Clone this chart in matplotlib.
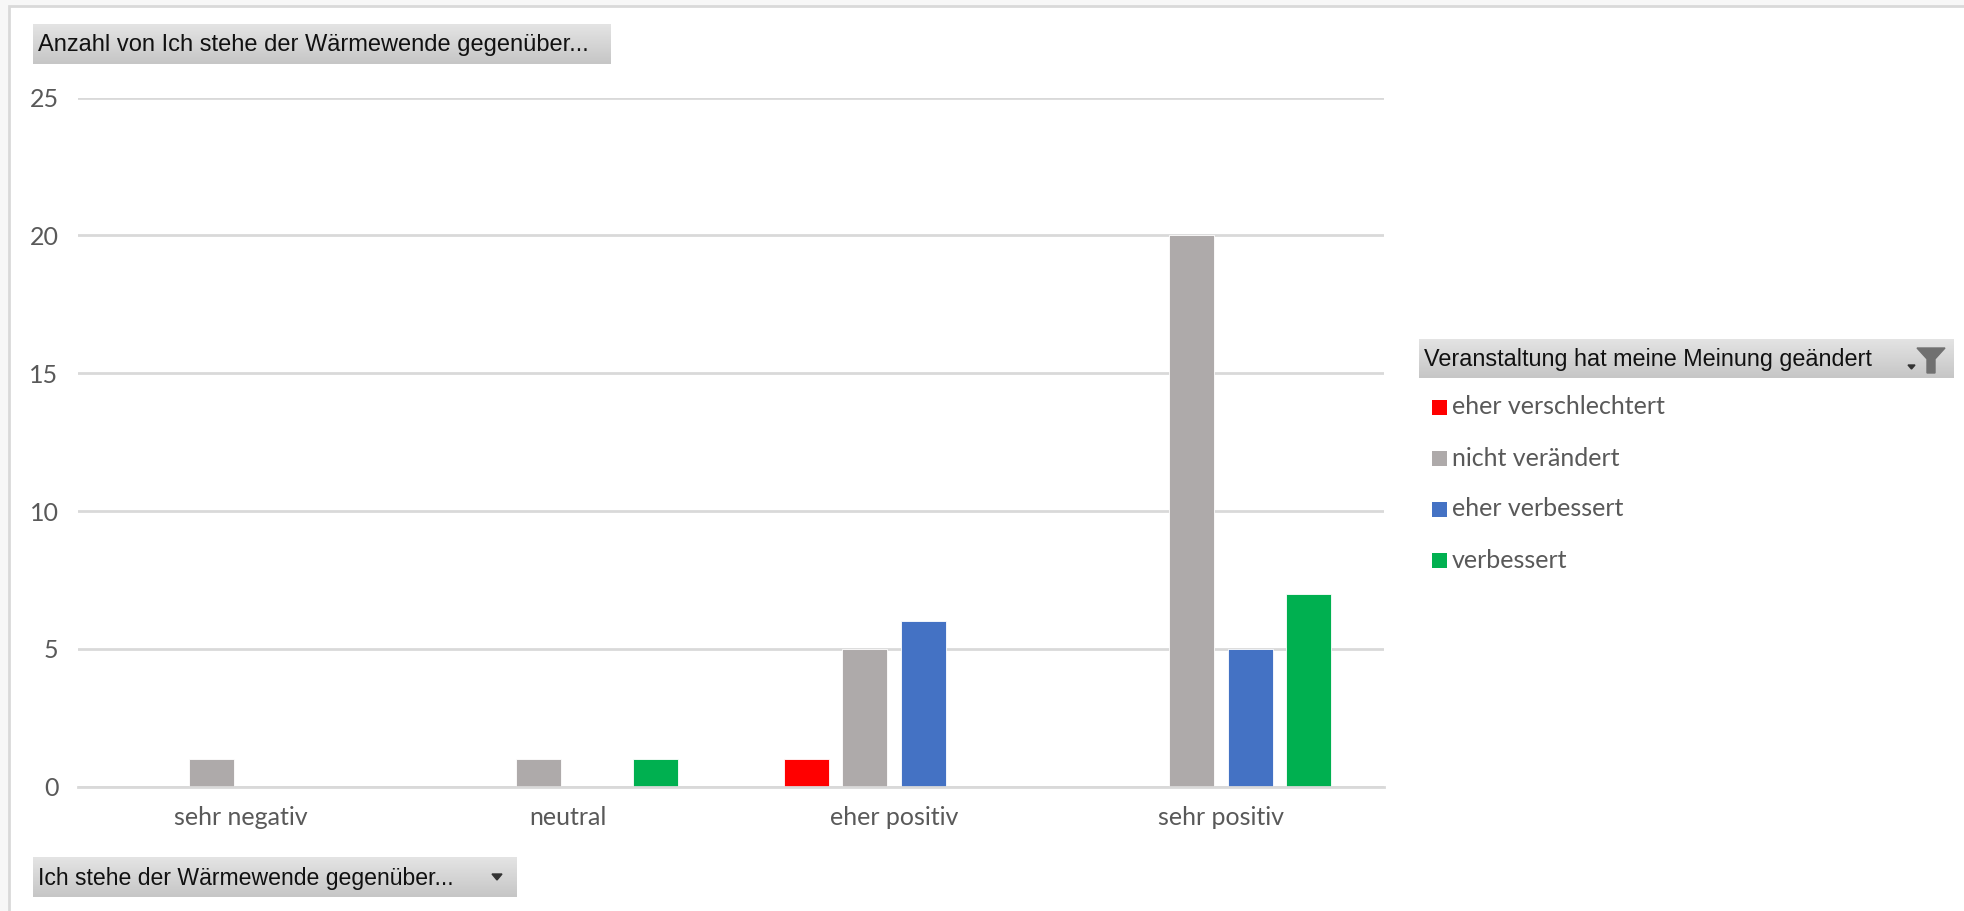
import matplotlib
matplotlib.use("Agg")
import matplotlib.pyplot as plt
import numpy as np
from matplotlib.patches import Rectangle, Polygon
from matplotlib.colors import LinearSegmentedColormap

categories = ["sehr negativ", "neutral", "eher positiv", "sehr positiv"]
series_names = ["eher verschlechtert", "nicht verändert", "eher verbessert", "verbessert"]
eher_verschlechtert = [0, 0, 1, 0]
nicht_veraendert = [1, 1, 5, 20]
eher_verbessert = [0, 0, 6, 5]
verbessert = [0, 1, 0, 7]
series_values = [eher_verschlechtert, nicht_veraendert, eher_verbessert, verbessert]
colors = ["#FF0000", "#AEAAAA", "#4472C4", "#00B050"]
yticks = [0, 5, 10, 15, 20, 25]
title_text = "Anzahl von Ich stehe der Wärmewende gegenüber..."
axis_button_text = "Ich stehe der Wärmewende gegenüber..."
legend_title = "Veranstaltung hat meine Meinung geändert"

W, H = 1964, 911
fig = plt.figure(figsize=(W / 100, H / 100), dpi=100, facecolor="#f7f7f7")

def rect_px(x0, y0, x1, y1):
    return [x0 / W, 1 - y1 / H, (x1 - x0) / W, (y1 - y0) / H]

bg = fig.add_axes([0, 0, 1, 1], zorder=-10)
bg.set_xlim(0, W); bg.set_ylim(H, 0); bg.axis("off")
bg.add_patch(Rectangle((9, 6), W, H, facecolor="white", edgecolor="#d9d9d9", linewidth=2))

font_lbl = "Lato"
font_btn = "Liberation Sans"

ax = fig.add_axes(rect_px(78, 97.7, 1384, 786.6))
ax.set_facecolor("none")
x = np.arange(len(categories))
step = 0.18
width = 0.138
for i, (name, vals, c) in enumerate(zip(series_names, series_values, colors)):
    ax.bar(x + (i - 1.5) * step, vals, width=width, color=c, edgecolor="white",
           linewidth=0.6, label=name, zorder=3)
ax.set_xlim(-0.5, len(categories) - 0.5)
ax.set_ylim(0, 25)
ax.set_yticks(yticks)
ax.set_yticklabels([str(t) for t in yticks], fontsize=18, color="#595959", family=font_lbl)
ax.set_xticks(x)
ax.set_xticklabels(categories, fontsize=18, color="#595959", family=font_lbl)
ax.tick_params(axis="both", length=0)
ax.tick_params(axis="y", pad=14)
ax.tick_params(axis="x", pad=14)
ax.grid(axis="y", color="#d9d9d9", linewidth=2, zorder=0)
for s in ["top", "right", "left"]:
    ax.spines[s].set_visible(False)
ax.spines["bottom"].set_color("#d9d9d9")
ax.spines["bottom"].set_linewidth(2)
ax.spines["bottom"].set_zorder(4)

grad = np.linspace(0, 1, 64).reshape(-1, 1)
cmap = LinearSegmentedColormap.from_list("btn", ["#e4e4e4", "#c6c6c6"])

def button(x0, y0, x1, y1, text, fs, arrow=None, funnel=False):
    b = fig.add_axes(rect_px(x0, y0, x1, y1))
    w, h = x1 - x0, y1 - y0
    b.imshow(grad, aspect="auto", cmap=cmap, extent=[0, w, h, 0])
    b.set_xlim(0, w); b.set_ylim(h, 0)
    b.axis("off")
    b.text(5, h / 2 + 1, text, fontsize=fs, family=font_btn, color="#111111",
           va="center", ha="left")
    if arrow is not None:
        ax_, ay_ = arrow
        b.add_patch(Polygon([[ax_ - 5, ay_ - 3], [ax_ + 5, ay_ - 3], [ax_, ay_ + 3]],
                            closed=True, color="#333333"))
    if funnel:
        fx = w - 23
        b.add_patch(Polygon([[fx - 14, 9], [fx + 14, 9], [fx + 4, 20], [fx + 4, 34],
                             [fx - 4, 34], [fx - 4, 20]], closed=True, color="#707070"))
        b.add_patch(Polygon([[fx - 23, 26], [fx - 16, 26], [fx - 19.5, 30]], closed=True, color="#333333"))
    return b

button(33, 24, 611, 64, title_text, 17.0)
button(33, 857, 517, 897, axis_button_text, 16.6, arrow=(464, 20))
button(1419, 339, 1954, 378, legend_title, 16.8, funnel=True)

leg = fig.add_axes([0, 0, 1, 1], zorder=5)
leg.set_xlim(0, W); leg.set_ylim(H, 0); leg.axis("off")
ys = [407, 458, 509, 560]
for name, c, yy in zip(series_names, colors, ys):
    leg.add_patch(Rectangle((1432, yy - 7.5), 15, 15, facecolor=c, edgecolor="none"))
    leg.text(1452, yy, name, fontsize=18, family=font_lbl, color="#595959", va="center", ha="left")

fig.savefig("out.png", dpi=100, facecolor=fig.get_facecolor())
